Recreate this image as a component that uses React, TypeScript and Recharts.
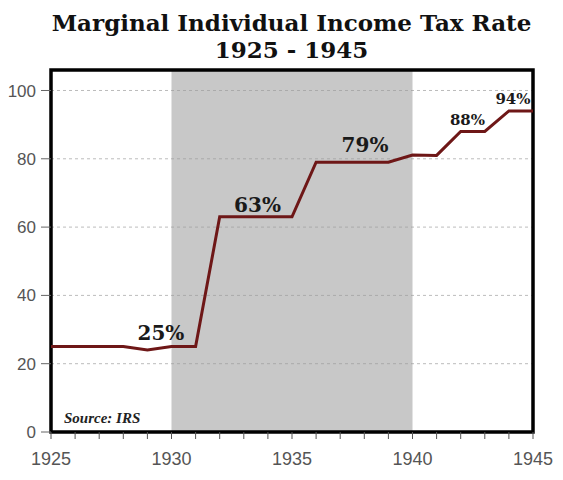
import { LineChart, Line, XAxis, YAxis, CartesianGrid, ReferenceArea, ReferenceDot } from 'recharts';

// yearly top marginal rate
const years = [1925, 1926, 1927, 1928, 1929, 1930, 1931, 1932, 1933, 1934, 1935, 1936, 1937, 1938, 1939, 1940, 1941, 1942, 1943, 1944, 1945];
const rates = [25, 25, 25, 25, 24, 25, 25, 63, 63, 63, 63, 79, 79, 79, 79, 81.1, 81, 88, 88, 94, 94];

const yTicks = [0, 20, 40, 60, 80, 100];

// text annotations sitting on the line
const noteText = ['25%', '63%', '79%', '88%', '94%'];
const noteYears = [1929.56, 1933.57, 1938.03, 1942.28, 1944.17];
const noteValues = [26.9, 64.3, 81.9, 89.9, 96.1];
const noteSizes = [20, 20, 20, 15, 15];

const data = years.map((year, i) => ({ year, rate: rates[i] }));

const serif = "'DejaVu Serif', Georgia, serif";
const sans = "'Liberation Sans', Arial, sans-serif";

export default function App() {
  return (
    <div style={{ position: 'absolute', left: 0, top: 0, width: 563, height: 480, background: '#fff' }}>
      <div
        style={{
          position: 'absolute',
          left: 0,
          top: 9,
          width: 583,
          textAlign: 'center',
          fontFamily: serif,
          fontWeight: 'bold',
          fontSize: 23,
          lineHeight: '27px',
          color: '#111',
        }}
      >
        <div>Marginal Individual Income Tax Rate</div>
        <div>1925 - 1945</div>
      </div>
      <LineChart width={563} height={480} data={data} margin={{ top: 70, right: 30, bottom: 18, left: 0 }}>
        <CartesianGrid horizontal vertical={false} strokeDasharray="3 3" stroke="#bcbcbc" />
        <ReferenceArea x1={1930} x2={1940} y1={0} y2={106} fill="#9a9a9a" fillOpacity={0.55} stroke="none" />
        <XAxis
          dataKey="year"
          type="number"
          domain={[1925, 1945]}
          ticks={years}
          tickFormatter={(v) => (v % 5 === 0 ? String(v) : '')}
          axisLine={false}
          tickSize={7}
          tickMargin={13}
          tickLine={{ stroke: '#555' }}
          tick={{ fill: '#555', fontSize: 18, fontFamily: sans }}
          height={30}
        />
        <YAxis
          domain={[0, 106]}
          ticks={yTicks}
          axisLine={false}
          tickSize={10}
          tickMargin={5}
          tickLine={{ stroke: '#666' }}
          tick={{ fill: '#555', fontSize: 17, fontFamily: sans }}
          width={51}
        />
        <Line
          type="linear"
          dataKey="rate"
          stroke="#6e1717"
          strokeWidth={3}
          dot={false}
          isAnimationActive={false}
        />
        {noteText.map((t, i) => (
          <ReferenceDot
            key={t}
            x={noteYears[i]}
            y={noteValues[i]}
            r={0}
            stroke="none"
            fill="none"
            label={(props: any) => {
              const vb = props.viewBox;
              return (
                <text
                  x={vb.x + vb.width / 2}
                  y={vb.y + vb.height / 2}
                  textAnchor="middle"
                  fontFamily={serif}
                  fontWeight="bold"
                  fontSize={noteSizes[i]}
                  fill="#1a1a1a"
                >
                  {t}
                </text>
              );
            }}
          />
        ))}
        <ReferenceDot
          x={1925.54}
          y={2.6}
          r={0}
          stroke="none"
          fill="none"
          label={(props: any) => {
            const vb = props.viewBox;
            return (
              <text
                x={vb.x}
                y={vb.y + vb.height / 2}
                textAnchor="start"
                fontFamily="'Liberation Serif', 'Times New Roman', serif"
                fontWeight="bold"
                fontStyle="italic"
                fontSize={15}
                fill="#222"
              >
                Source: IRS
              </text>
            );
          }}
        />
        <ReferenceArea x1={1925} x2={1945} y1={0} y2={106} fill="none" stroke="#000" strokeWidth={3.5} />
      </LineChart>
    </div>
  );
}
